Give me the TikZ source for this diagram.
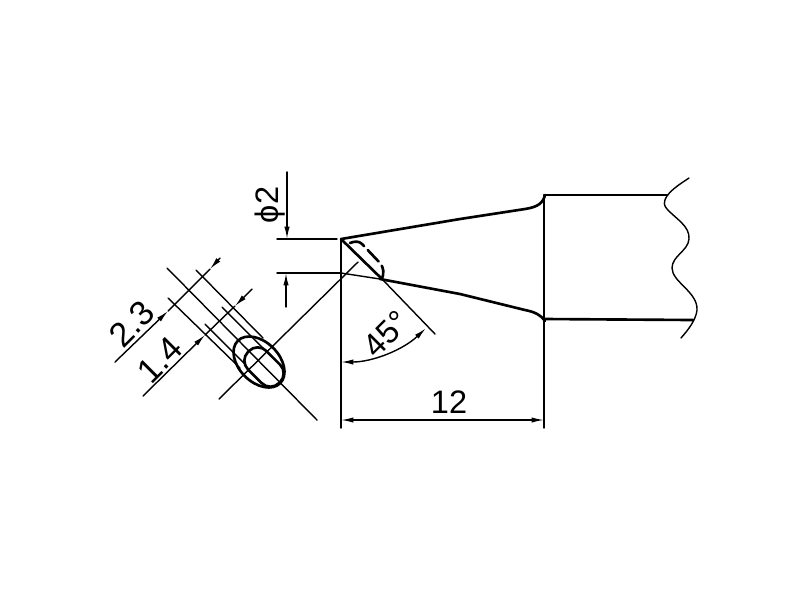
\documentclass[tikz,border=0pt]{standalone}
\usepackage{fontspec}
\setmainfont{Liberation Sans}
\usetikzlibrary{arrows.meta}
\tikzset{
  thinline/.style={line width=0.8pt},
  thickline/.style={line width=1.5pt},
  dimtext/.style={font=\fontsize{18.5}{20}\selectfont,inner sep=0pt},
  bigdimtext/.style={font=\fontsize{19.5}{22}\selectfont,inner sep=0pt}
}
\begin{document}
\begin{tikzpicture}[line cap=round,line join=round,>={Latex[length=7pt,width=3pt]},x=0.02cm,y=-0.02cm]
\useasboundingbox (0,0) rectangle (800,600);
% body of the tip
\draw[thickline] (341,239)-- (460,219)-- (525,209) .. controls (538,207) and (543,203) .. (545,195);
\draw[thickline] (380,279)-- (460,294)-- (525,310) .. controls (535,312) and (541,315) .. (545,321);
\draw[thickline] (341,239)-- (382,279);
\draw[thickline] (341,239)-- (341,313);
\draw[thickline] (545,195)-- (667,195);
\draw[thickline] (545,319)-- (693,320);
\draw[thickline] (544,195)-- (544,319);
\draw[thickline,dash pattern=on 9pt off 3pt] (350,243) .. controls (355,241) and (359,241) .. (362,244)-- (380,263) .. controls (384,268) and (384,273) .. (382,279);
% wavy break
\draw[thinline] (689,178) .. controls (680,184) and (672,189) .. (667,196) .. controls (663,202) and (664,206) .. (667,209) .. controls (676,219) and (690,226) .. (689,239) .. controls (688,251) and (672,256) .. (672,268) .. controls (672,282) and (698,292) .. (697,310) .. controls (696,320) and (688,330) .. (681,338);
% phi 2
\draw[thinline] (341,273)-- (380,279);
\draw[thinline,->] (287,172)-- (287,239);
\draw[thinline,->] (286,307)-- (286,273);
\draw[thinline] (277,239)-- (337,239);
\draw[thinline] (277,273)-- (340,273);
\node[dimtext,rotate=90] (diam) at (270,205) {ϕ2};
% 12
\draw[thinline] (341,239)-- (341,428);
\draw[thinline] (544,319)-- (544,428);
\draw[thinline,<->] (341,420)-- (544,420);
\node[dimtext] (len) at (449,402) {12};
% 45 deg
\draw[thinline] (382,279)-- (435,334);
\draw[thinline,<->] (341,362) arc[start angle=90,end angle=46.6,radius=123.5];
\node[dimtext,rotate=45] (ang) at (386,334) {45°};
% end view
\draw[thinline] (358,262)-- (219,399);
\draw[thinline] (167,268)-- (317,420);
\draw[thinline] (196,270)-- (263,338);
\draw[thinline] (168,298)-- (240,368);
\draw[thinline] (222,307)-- (272,357);
\draw[thinline] (205,324)-- (246,365);
\draw[thinline,->] (115,362)-- (168,311);
\draw[thinline,->] (220,258)-- (210,269);
\draw[thinline] (168,311)-- (210,269);
\draw[thinline,->] (143,396)-- (205,335);
\draw[thinline,->] (252,289)-- (235,306);
\draw[thinline] (205,335)-- (235,306);
\draw[thickline,rotate around={-45:(259,362)}] (259,362) ellipse[x radius=30,y radius=20];
\draw[thickline,rotate around={-45:(264,367)},rounded corners=7pt] (242,354) rectangle (286,380);
\node[bigdimtext,rotate=45] (wide) at (132,324) {2.3};
\node[bigdimtext,rotate=45] (narrow) at (160,360) {1.4};
\end{tikzpicture}
\end{document}
